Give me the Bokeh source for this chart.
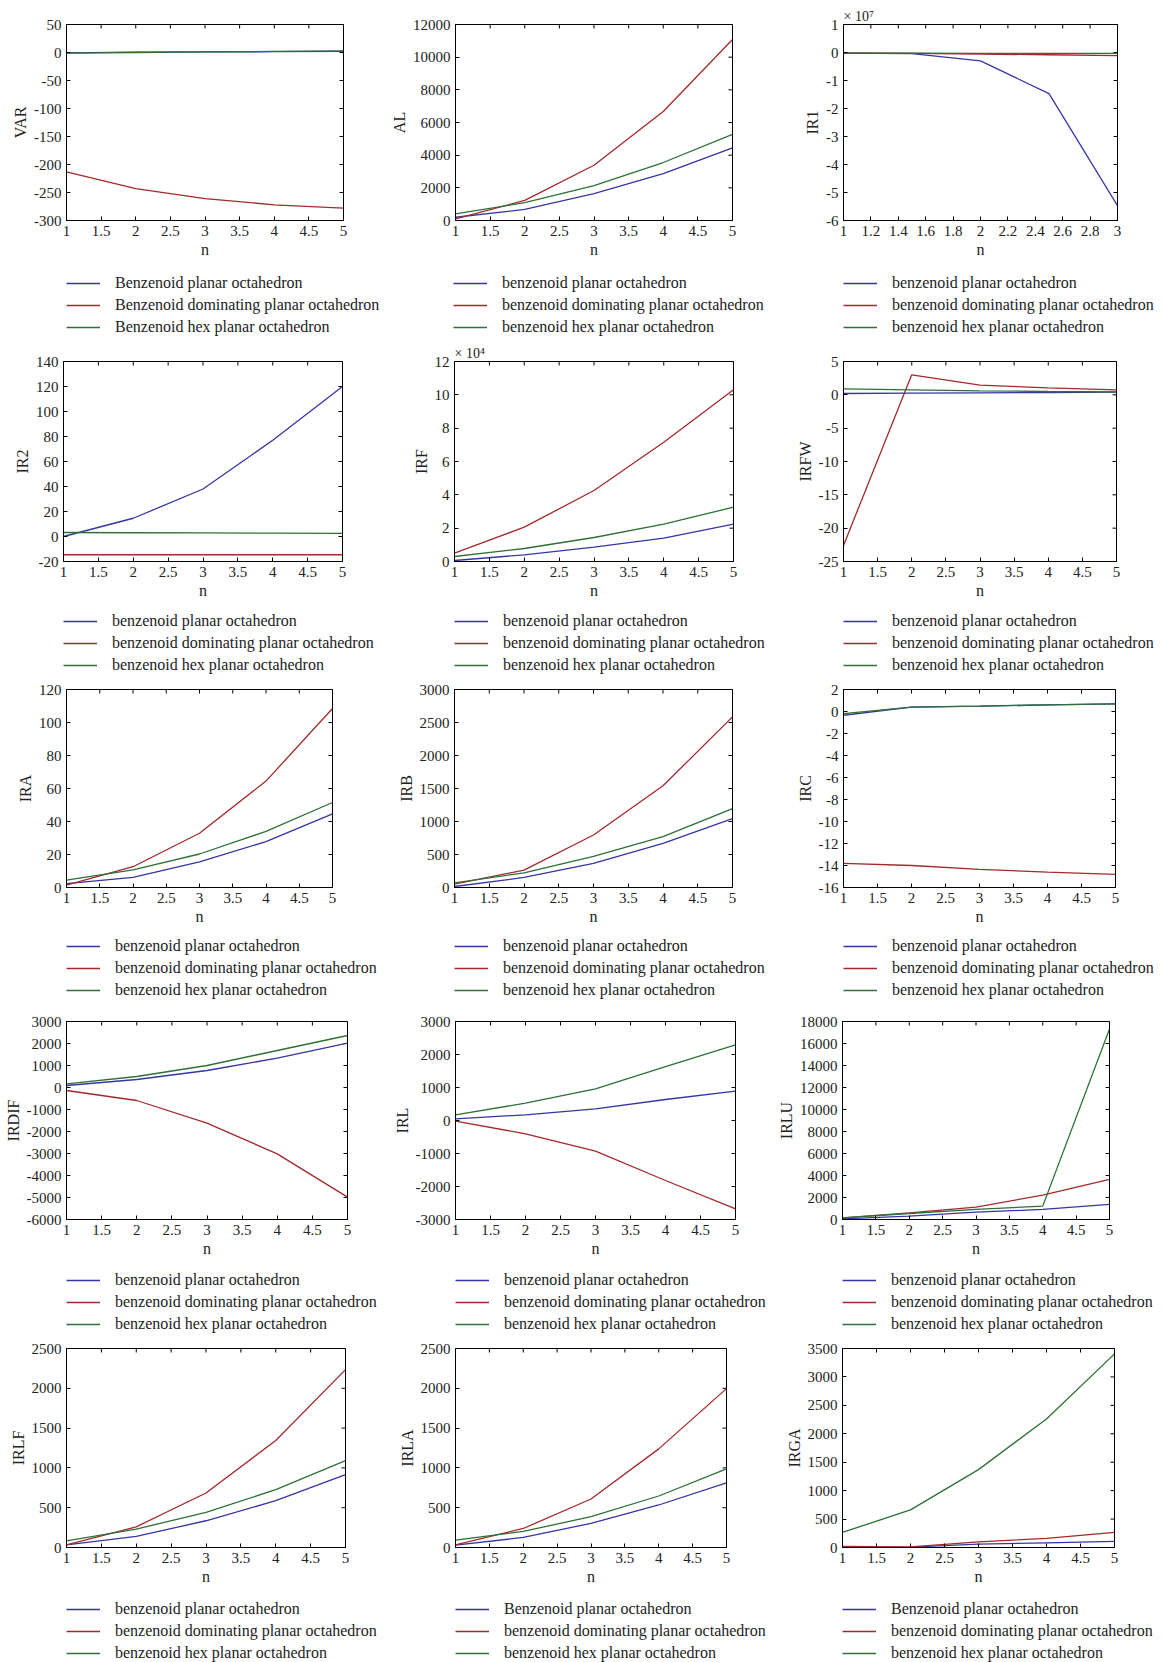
import numpy as np
from bokeh.plotting import figure
from bokeh.layouts import column, row
from bokeh.models import Range1d, FixedTicker, CustomJSTickFormatter
from bokeh.embed import file_html
from bokeh.resources import INLINE

# ---------------- data ----------------
n = [1, 2, 3, 4, 5]
n_ir1 = [1, 1.5, 2, 2.5, 3]

var_planar = [-0.5, 0.5, 1.0, 1.5, 2.0]
var_dominating = [-213, -243, -261, -272, -278]
var_hex = [-1.0, 0.0, 1.0, 2.0, 3.0]

al_planar = [200, 680, 1640, 2870, 4450]
al_dominating = [100, 1230, 3380, 6670, 11080]
al_hex = [410, 1090, 2130, 3550, 5270]

ir1_planar = [-0.02e7, -0.04e7, -0.30e7, -1.47e7, -5.47e7]
ir1_dominating = [-0.02e7, -0.03e7, -0.06e7, -0.08e7, -0.11e7]
ir1_hex = [-0.02e7, -0.02e7, -0.03e7, -0.03e7, -0.03e7]

ir2_planar = [0, 14.6, 38, 77, 120]
ir2_dominating = [-14.6, -14.6, -14.6, -14.6, -14.6]
ir2_hex = [3.2, 3.0, 2.9, 2.7, 2.5]

irf_planar = [600, 4000, 8600, 14000, 22400]
irf_dominating = [5000, 20600, 42600, 71600, 103000]
irf_hex = [3000, 7800, 14400, 22400, 32600]

irfw_planar = [0.2, 0.25, 0.3, 0.35, 0.4]
irfw_dominating = [-22.6, 3.0, 1.45, 1.05, 0.75]
irfw_hex = [0.9, 0.75, 0.6, 0.5, 0.45]

ira_planar = [2.4, 6.1, 15.6, 27.8, 44.6]
ira_dominating = [1.4, 12.6, 32.9, 64.5, 108.5]
ira_hex = [4.5, 10.7, 20.3, 34.0, 51.5]

irb_planar = [15, 152, 365, 669, 1044]
irb_dominating = [50, 264, 796, 1541, 2585]
irb_hex = [71, 223, 471, 770, 1196]

irc_planar = [-0.34, 0.39, 0.48, 0.60, 0.69]
irc_dominating = [-13.8, -14.0, -14.35, -14.6, -14.8]
irc_hex = [-0.19, 0.39, 0.48, 0.60, 0.69]

irdif_planar = [91, 364, 773, 1333, 2015]
irdif_dominating = [-136, -591, -1621, -3015, -4985]
irdif_hex = [167, 500, 1000, 1682, 2364]

irl_planar = [51, 172, 354, 636, 889]
irl_dominating = [-20, -404, -929, -1818, -2677]
irl_hex = [172, 525, 960, 1636, 2293]

irlu_planar = [50, 304, 669, 912, 1368]
irlu_dominating = [150, 608, 1125, 2219, 3647]
irlu_hex = [152, 547, 912, 1216, 17330]

irlf_planar = [34, 139, 336, 588, 916]
irlf_dominating = [34, 260, 685, 1345, 2235]
irlf_hex = [84, 231, 441, 727, 1092]

irla_planar = [29, 126, 303, 534, 811]
irla_dominating = [34, 239, 609, 1239, 1996]
irla_hex = [92, 202, 387, 647, 987]

irga_planar = [0, 6, 59, 83, 106]
irga_dominating = [18, 12, 100, 159, 266]
irga_hex = [266, 661, 1370, 2261, 3406]

labels_lower = ["benzenoid planar octahedron",
                "benzenoid dominating planar octahedron",
                "benzenoid hex planar octahedron"]
labels_upper = ["Benzenoid planar octahedron",
                "Benzenoid dominating planar octahedron",
                "Benzenoid hex planar octahedron"]
labels_first_upper = ["Benzenoid planar octahedron",
                      "benzenoid dominating planar octahedron",
                      "benzenoid hex planar octahedron"]

# (name, x, series, ymin, ymax, ystep, xmax, xstep, exponent, labels)
panels = [
    [("VAR", n, (var_planar, var_dominating, var_hex), -300, 50, 50, 5, 0.5, 0, labels_upper),
     ("AL", n, (al_planar, al_dominating, al_hex), 0, 12000, 2000, 5, 0.5, 0, labels_lower),
     ("IR1", n_ir1, (ir1_planar, ir1_dominating, ir1_hex), -6e7, 1e7, 1e7, 3, 0.2, 7, labels_lower)],
    [("IR2", n, (ir2_planar, ir2_dominating, ir2_hex), -20, 140, 20, 5, 0.5, 0, labels_lower),
     ("IRF", n, (irf_planar, irf_dominating, irf_hex), 0, 12e4, 2e4, 5, 0.5, 4, labels_lower),
     ("IRFW", n, (irfw_planar, irfw_dominating, irfw_hex), -25, 5, 5, 5, 0.5, 0, labels_lower)],
    [("IRA", n, (ira_planar, ira_dominating, ira_hex), 0, 120, 20, 5, 0.5, 0, labels_lower),
     ("IRB", n, (irb_planar, irb_dominating, irb_hex), 0, 3000, 500, 5, 0.5, 0, labels_lower),
     ("IRC", n, (irc_planar, irc_dominating, irc_hex), -16, 2, 2, 5, 0.5, 0, labels_lower)],
    [("IRDIF", n, (irdif_planar, irdif_dominating, irdif_hex), -6000, 3000, 1000, 5, 0.5, 0, labels_lower),
     ("IRL", n, (irl_planar, irl_dominating, irl_hex), -3000, 3000, 1000, 5, 0.5, 0, labels_lower),
     ("IRLU", n, (irlu_planar, irlu_dominating, irlu_hex), 0, 18000, 2000, 5, 0.5, 0, labels_lower)],
    [("IRLF", n, (irlf_planar, irlf_dominating, irlf_hex), 0, 2500, 500, 5, 0.5, 0, labels_lower),
     ("IRLA", n, (irla_planar, irla_dominating, irla_hex), 0, 2500, 500, 5, 0.5, 0, labels_first_upper),
     ("IRGA", n, (irga_planar, irga_dominating, irga_hex), 0, 3500, 500, 5, 0.5, 0, labels_first_upper)],
]

colors = ["#3535a5", "#a3292c", "#2d7038"]

# ---------------- layout geometry ----------------
col_start = [0, 387, 774]
col_width = [387, 387, 388]
frames_x = [
    [(66, 343), (453, 732), (843, 1117)],
    [(63, 342), (454, 733), (843, 1116)],
    [(66, 332), (454, 732), (843, 1115)],
    [(66, 347), (455, 735), (842, 1109)],
    [(66, 345), (455, 726), (842, 1114)],
]
# (row height, top border, frame height, legend first-line offset below frame)
rows_geom = [(337, 24, 196, 63), (338, 24, 200, 60), (330, 14, 198, 59),
             (331, 16, 198, 61), (326, 12, 199, 62)]

FONT = "Liberation Serif"
TXT = "#222222"


def style_axis(ax, ticks, scale=1.0):
    ax.ticker = FixedTicker(ticks=list(ticks))
    ax.major_tick_in = 4
    ax.major_tick_out = 0
    ax.minor_tick_line_color = None
    ax.axis_line_color = "black"
    ax.major_tick_line_color = "black"
    ax.major_label_text_font = FONT
    ax.major_label_text_color = TXT
    ax.major_label_text_font_size = "15px"
    ax.major_label_standoff = 5
    ax.axis_label_text_font = FONT
    ax.axis_label_text_color = TXT
    ax.axis_label_text_font_style = "normal"
    ax.axis_label_text_font_size = "16px"
    ax.axis_label_standoff = 2
    ax.formatter = CustomJSTickFormatter(
        args=dict(scale=scale),
        code="const v = Math.round(tick / scale * 1000) / 1000; return v.toString();")


blocks = []
for ri, prow in enumerate(panels):
    rh, top, fh, leg_off = rows_geom[ri]
    bottom = leg_off - 11
    h1 = top + fh + bottom
    h2 = rh - h1
    charts, legends = [], []
    for ci, (name, xs, series, ymin, ymax, ystep, xmax, xstep, expo, labels) in enumerate(prow):
        fl, fr = frames_x[ri][ci]
        left = fl - col_start[ci]
        fw = fr - fl
        right = col_width[ci] - left - fw
        p = figure(width=col_width[ci], height=h1, output_backend="svg", toolbar_location=None,
                   x_range=Range1d(1, xmax), y_range=Range1d(ymin, ymax),
                   min_border_left=left, min_border_right=right,
                   min_border_top=top, min_border_bottom=bottom,
                   x_axis_label="n", y_axis_label=name)
        p.grid.visible = False
        p.outline_line_color = "black"
        p.background_fill_color = "white"
        p.border_fill_color = "white"
        xt = np.round(np.arange(1, xmax + 1e-9, xstep), 6)
        yt = np.round(np.arange(ymin, ymax + ystep * 1e-6, ystep), 6)
        scale = 10.0 ** expo
        style_axis(p.xaxis[0], xt)
        style_axis(p.yaxis[0], yt, scale)

        # inward ticks on the top and right edges (half of each dash is clipped by the frame)
        p.scatter(xt, np.full(len(xt), ymax), marker="dash", angle=np.pi / 2, size=8,
                  line_color="black", line_width=1)
        p.scatter(np.full(len(yt), xmax), yt, marker="dash", angle=0, size=8,
                  line_color="black", line_width=1)

        for s, c in zip(series, colors):
            p.line(xs, s, line_color=c, line_width=1.3)

        if expo:
            sup = {4: "\u2074", 7: "\u2077"}[expo]
            p.title.text = "\u00d7 10" + sup
            p.title.align = "left"
            p.title.text_font = FONT
            p.title.text_font_size = "14px"
            p.title.text_font_style = "normal"
            p.title.text_color = TXT
            p.title.standoff = 2
            p.title.offset = 0
        charts.append(p)

        # legend strip under the chart (series drawn off-range; only legend samples show)
        q = figure(width=col_width[ci], height=h2, output_backend="svg", toolbar_location=None,
                   x_range=Range1d(-10, -9), y_range=Range1d(-10, -9),
                   x_axis_location=None, y_axis_location=None,
                   min_border_left=left, min_border_right=0,
                   min_border_top=0, min_border_bottom=0)
        q.grid.visible = False
        q.outline_line_color = None
        q.background_fill_color = "white"
        q.border_fill_color = "white"
        for s, c, lab in zip(series, colors, labels):
            q.line(xs, s, line_color=c, line_width=1.3, legend_label=lab)
        lg = q.legend[0]
        lg.location = "top_left"
        lg.glyph_width = 34
        lg.glyph_height = 22
        lg.label_height = 22
        lg.label_standoff = 15
        lg.spacing = 0
        lg.padding = 0
        lg.margin = 0
        lg.border_line_color = None
        lg.background_fill_alpha = 0
        lg.label_text_font = FONT
        lg.label_text_font_size = "16px"
        lg.label_text_color = TXT
        legends.append(q)
    blocks.append(row(*charts, spacing=0))
    blocks.append(row(*legends, spacing=0))

layout = column(*blocks, spacing=0)
open("out.html", "w").write(file_html(layout, INLINE))
